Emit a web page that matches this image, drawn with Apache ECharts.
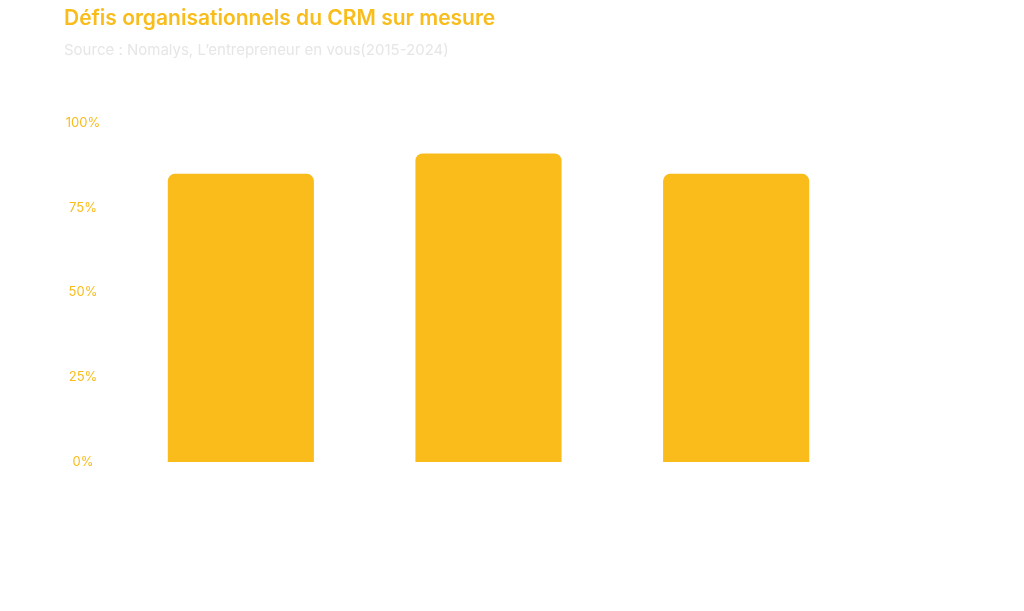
<!DOCTYPE html>
<html>
<head>
<meta charset="utf-8">
<script src="https://cdn.jsdelivr.net/npm/echarts@6/dist/echarts.min.js"></script>
<style>html,body{margin:0;padding:0;background:#fff}#c{width:1024px;height:611px}</style>
</head>
<body>
<div id="c"></div>
<script>
const categories = ['Défi 1', 'Défi 2', 'Défi 3'];
const values = [85, 91, 85];
const yTicks = [0, 25, 50, 75, 100];

const chart = echarts.init(document.getElementById('c'));
chart.setOption({
  animation: false,
  title: {
    text: 'Défis organisationnels du CRM sur mesure',
    subtext: 'Source : Nomalys, L\u2019entrepreneur en vous(2015-2024)',
    left: 59,
    top: 3,
    itemGap: 14,
    textStyle: { fontFamily: 'Inter', fontSize: 21, fontWeight: 600, color: '#F8BC1B' },
    subtextStyle: { fontFamily: 'Inter', fontSize: 15, color: '#E6E6E6' }
  },
  grid: { left: 117, right: 164, top: 123, bottom: 149 },
  xAxis: {
    type: 'category',
    data: categories,
    axisLine: { show: false },
    axisTick: { show: false },
    axisLabel: { show: false }
  },
  yAxis: {
    type: 'value',
    min: 0, max: 100, interval: 25,
    splitLine: { show: false },
    axisLine: { show: false },
    axisTick: { show: false },
    axisLabel: {
      formatter: v => yTicks.includes(v) ? v + '%' : '',
      color: '#F8BC1B',
      fontFamily: 'Inter',
      fontSize: 13,
      align: 'center',
      margin: 34
    }
  },
  series: [{
    type: 'bar',
    data: values,
    barWidth: '59%',
    itemStyle: { color: '#F9BC1A', borderRadius: [7, 7, 0, 0] }
  }]
});
</script>
</body>
</html>
